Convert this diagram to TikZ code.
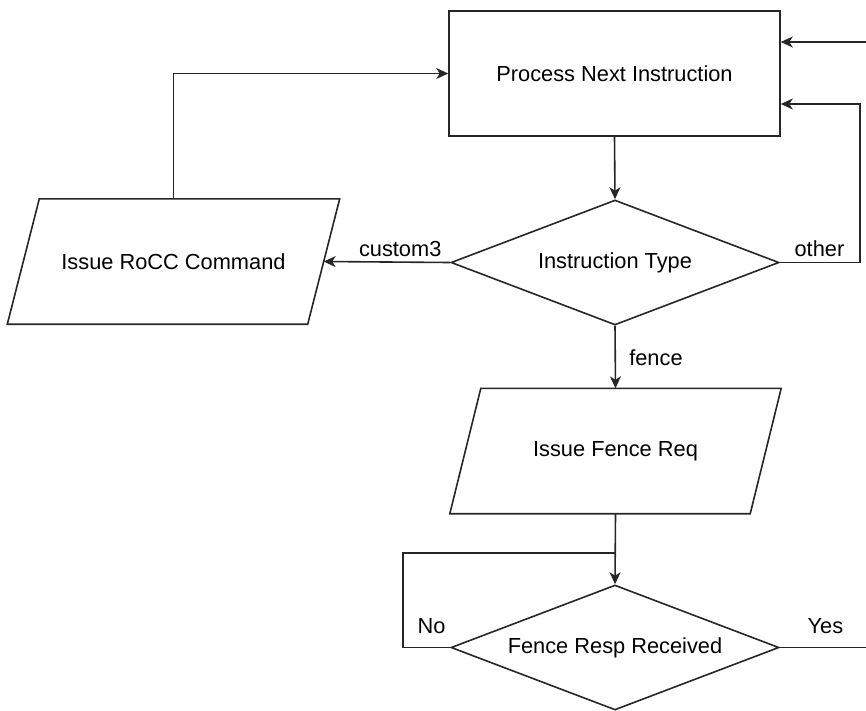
\documentclass[tikz,border=0pt]{standalone}
\usepackage{fontspec}
\setmainfont{Liberation Sans}
\usetikzlibrary{shapes.geometric,arrows.meta,calc}
\begin{document}
\begin{tikzpicture}[x=1pt,y=-1pt,
  every node/.style={font=\fontsize{21.8}{26}\selectfont},
  shape line/.style={draw=black!85, line width=1.6pt},
  procbox/.style={shape line, rectangle, minimum width=331pt, minimum height=125pt, inner sep=0pt},
  decision/.style={shape line, diamond, minimum width=328pt, minimum height=125pt, inner sep=0pt, aspect=2.6},
  iobody/.style={rectangle, minimum width=300pt, minimum height=125pt, inner sep=0pt},
  conn/.style={draw=black!85, line width=1.6pt},
  arr/.style={conn, -{Stealth[length=12pt,width=11pt,inset=3.5pt]}},
  lbl/.style={inner sep=0pt}]
\useasboundingbox (0,0) rectangle (866,710);

% process and decision nodes
\node[procbox]  (pni)  at (614.5,73.5) {Process Next Instruction};
\node[decision] (it)   at (615,262.5)  {Instruction Type};
\node[iobody]   (rocc) at (173.5,261.5) {Issue RoCC Command};
\node[iobody]   (fr)   at (615.5,451)  {Issue Fence Req};
\node[decision] (fd)   at (615,647.5)  {Fence Resp Received};

% parallelogram outlines of the I/O steps
\foreach \n/\s in {rocc/16, fr/15.5}
  \draw[shape line] ($(\n.north west)+(\s,0)$) -- ($(\n.north east)+(\s,0)$)
     -- ($(\n.south east)-(\s,0)$) -- ($(\n.south west)-(\s,0)$) -- cycle;

% bend points and loose ends
\coordinate (oc)  at (860,104);
\coordinate (tin) at (866,42);
\coordinate (nl)  at (403,553);
\coordinate (yo)  at (866,647.5);

% connectors
\draw[arr] (pni.south) -- (it.north);
\draw[arr] (it.west) -- node[lbl, pos=0, anchor=base east, xshift=-8pt, yshift=6pt] {custom3} (rocc.east);
\draw[arr] (rocc.north) |- (pni.west);
\draw[arr] (it.east) -| node[lbl, pos=0, anchor=base west, xshift=14pt, yshift=6pt] {other} (oc) -- (oc -| pni.east);
\draw[arr] (tin) -- (tin -| pni.east);
\draw[arr] (it.south) -- node[lbl, pos=1, anchor=base west, xshift=13pt, yshift=23pt] {fence} (fr.north);
\draw[arr] (fr.south) -- (fd.north);
\draw[conn] (fd.west) -| node[lbl, pos=0, anchor=base east, xshift=-4pt, yshift=14pt] {No} (nl) -- (nl -| fd.north);
\draw[conn] (fd.east) -- node[lbl, pos=0, anchor=base west, xshift=27pt, yshift=14pt] {Yes} (yo);
\end{tikzpicture}
\end{document}
